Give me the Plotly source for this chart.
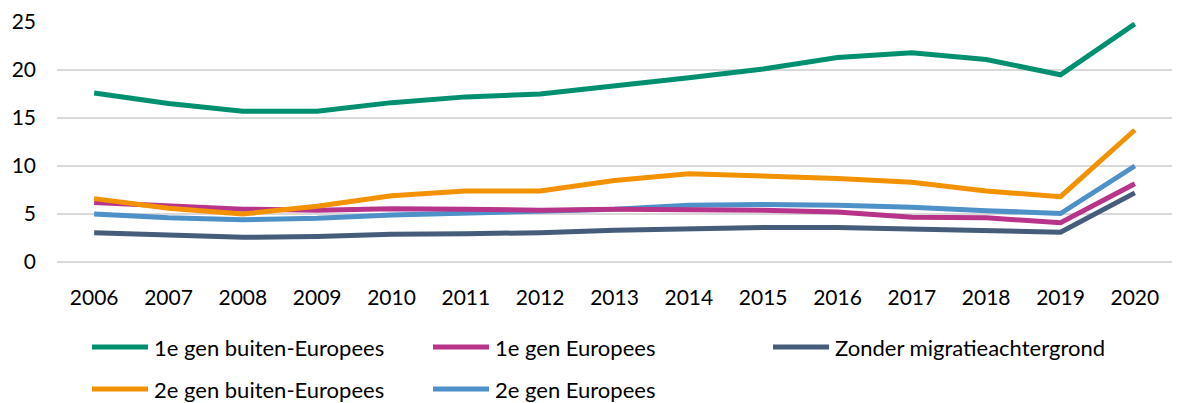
import plotly.graph_objects as go

years = [str(y) for y in range(2006, 2021)]
gen1_buiten = [17.6, 16.5, 15.7, 15.7, 16.6, 17.2, 17.5, 18.3, 19.2, 20.1, 21.3, 21.8, 21.1, 19.5, 24.8]
gen1_europees = [6.2, 5.9, 5.5, 5.4, 5.55, 5.5, 5.4, 5.5, 5.5, 5.4, 5.2, 4.65, 4.6, 4.1, 8.15]
zonder = [3.05, 2.75, 2.57, 2.65, 2.9, 2.95, 3.05, 3.3, 3.5, 3.6, 3.6, 3.4, 3.2, 3.1, 7.2]
gen2_buiten = [6.6, 5.6, 5.0, 5.8, 6.9, 7.4, 7.4, 8.5, 9.2, 9.0, 8.7, 8.3, 7.4, 6.8, 13.75]
gen2_europees = [5.0, 4.6, 4.4, 4.55, 4.9, 5.1, 5.2, 5.5, 5.9, 6.0, 5.9, 5.7, 5.35, 5.05, 10.0]

series_names = ["1e gen buiten-Europees", "1e gen Europees", "Zonder migratieachtergrond",
                "2e gen buiten-Europees", "2e gen Europees"]
series_values = [gen1_buiten, gen1_europees, zonder, gen2_buiten, gen2_europees]
series_colors = ["#00906F", "#B8348B", "#455D7A", "#F39200", "#4E90C8"]

FONT = "Lato, Open Sans, sans-serif"
W, H = 1178, 403
ML, MR, MT, MB = 57, 6, 22, 141
PW, PH = W - ML - MR, H - MT - MB

def px_to_paper(px, py):
    return (px - ML) / PW, (H - MB - py) / PH

fig = go.Figure()
draw_order = [2, 4, 1, 3, 0]
for i in draw_order:
    fig.add_trace(go.Scatter(
        x=years, y=series_values[i], name=series_names[i], mode="lines",
        line=dict(color=series_colors[i], width=5), showlegend=False,
    ))

# Manual legend (Excel-style: 3 columns, 2 rows, long line keys)
col_x = [92, 433, 773]
row_y = [347, 389]
key_len = 56
for idx, (name, col) in enumerate(zip(series_names, series_colors)):
    r, c = divmod(idx, 3)
    x0, y0 = px_to_paper(col_x[c], row_y[r])
    x1, _ = px_to_paper(col_x[c] + key_len, row_y[r])
    fig.add_shape(type="line", xref="paper", yref="paper", x0=x0, x1=x1, y0=y0, y1=y0,
                  line=dict(color=col, width=5))
    tx, _ = px_to_paper(col_x[c] + key_len + 4, row_y[r])
    fig.add_annotation(xref="paper", yref="paper", x=tx, y=y0, text=name, showarrow=False,
                       xanchor="left", yanchor="middle",
                       font=dict(family=FONT, size=22, color="#000000"))

fig.update_layout(
    width=W, height=H,
    margin=dict(l=ML, r=MR, t=MT, b=MB, autoexpand=False),
    plot_bgcolor="white", paper_bgcolor="white",
    font=dict(family=FONT, size=21, color="#000000"),
    showlegend=False,
    xaxis=dict(type="category", range=[-0.5, 14.5], showgrid=False,
               showline=False, ticks="", ticklabelstandoff=21,
               tickfont=dict(family=FONT, size=21)),
    yaxis=dict(range=[0, 25], dtick=5, showgrid=True, gridcolor="#D9D9D9",
               gridwidth=1.5, zeroline=True, zerolinecolor="#D9D9D9", zerolinewidth=1.5,
               showline=False, ticks="", ticklabelstandoff=20,
               tickfont=dict(family=FONT, size=21)),
)
fig.write_html("out.html", config={"displayModeBar": False},
               post_script="document.body.style.margin='0';")
